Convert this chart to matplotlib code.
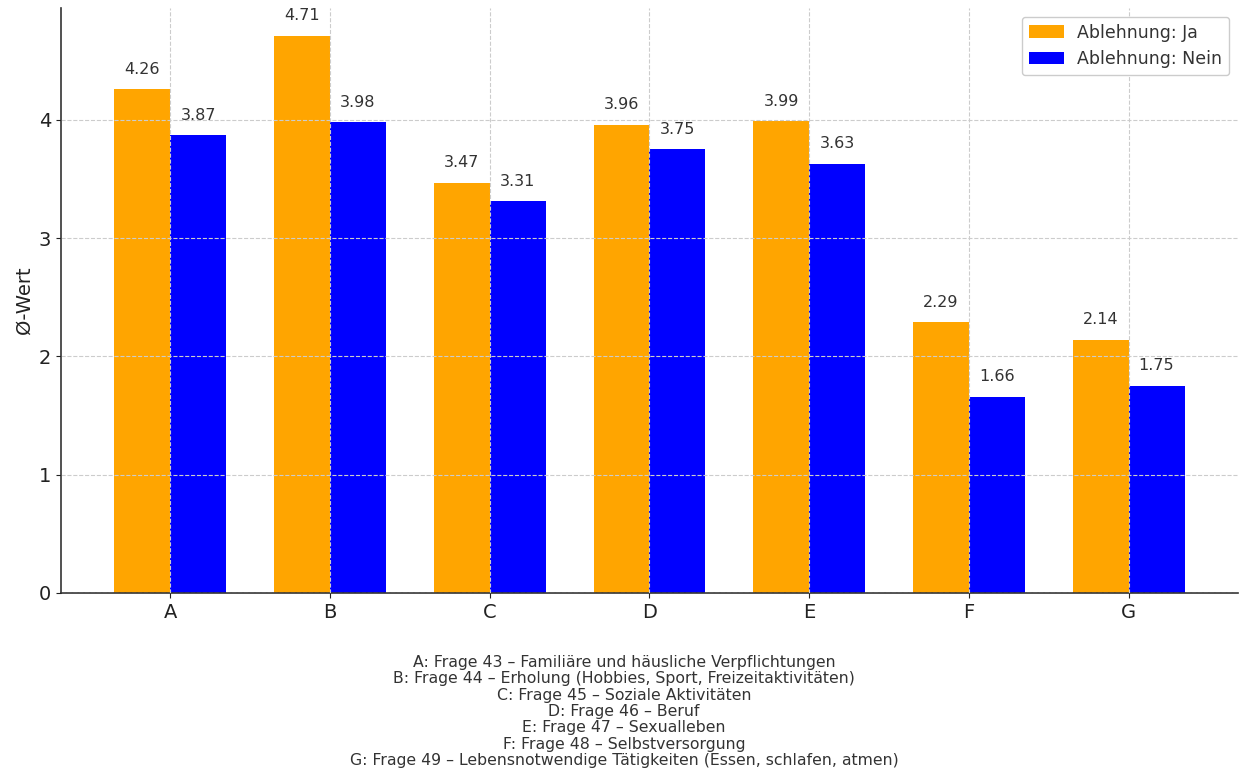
import numpy as np
import matplotlib
matplotlib.use("Agg")
from matplotlib import pyplot as plt

plt.rcParams["font.family"] = ["DejaVu Sans"]

categories = ["A", "B", "C", "D", "E", "F", "G"]
ja = [4.26, 4.71, 3.47, 3.96, 3.99, 2.29, 2.14]
nein = [3.87, 3.98, 3.31, 3.75, 3.63, 1.66, 1.75]
series_labels = ["Ablehnung: Ja", "Ablehnung: Nein"]
footer_lines = [
    "A: Frage 43 – Familiäre und häusliche Verpflichtungen",
    "B: Frage 44 – Erholung (Hobbies, Sport, Freizeitaktivitäten)",
    "C: Frage 45 – Soziale Aktivitäten",
    "D: Frage 46 – Beruf",
    "E: Frage 47 – Sexualleben",
    "F: Frage 48 – Selbstversorgung",
    "G: Frage 49 – Lebensnotwendige Tätigkeiten (Essen, schlafen, atmen)",
]

fig = plt.figure(figsize=(12.41, 7.71), dpi=100)
ax = fig.add_axes([0.049, 0.231, 0.9486, 0.7586])

x = np.arange(len(categories))
w = 0.35
b1 = ax.bar(x - w / 2, ja, w, color="#FFA500", label=series_labels[0])
b2 = ax.bar(x + w / 2, nein, w, color="#0000FF", label=series_labels[1])

# value labels above each bar
for bars, vals in ((b1, ja), (b2, nein)):
    for bar, v in zip(bars, vals):
        ax.annotate(f"{v:.2f}", (bar.get_x() + bar.get_width() / 2, v),
                    xytext=(0, 9), textcoords="offset points",
                    ha="center", va="bottom", fontsize=11.5, color="#333333")

ax.set_xticks(x)
ax.set_xticklabels(categories)
ax.set_yticks([0, 1, 2, 3, 4])
ax.tick_params(labelsize=14, colors="#222222")
ax.set_ylabel("Ø-Wert", fontsize=14, color="#222222")
ax.grid(True, linestyle="--", color="#cccccc", linewidth=0.8)
ax.set_axisbelow(False)
for s in ("top", "right"):
    ax.spines[s].set_visible(False)
for s in ("left", "bottom"):
    ax.spines[s].set_color("#333333")
    ax.spines[s].set_linewidth(1.2)

leg = ax.legend(loc="upper right", fontsize=12.5, framealpha=1)
for t in leg.get_texts():
    t.set_color("#333333")

fig.text(0.503, 0.004, "\n".join(footer_lines), ha="center", va="bottom",
         fontsize=11.35, color="#333333", linespacing=1.11)

fig.savefig("out.png", dpi=100)
